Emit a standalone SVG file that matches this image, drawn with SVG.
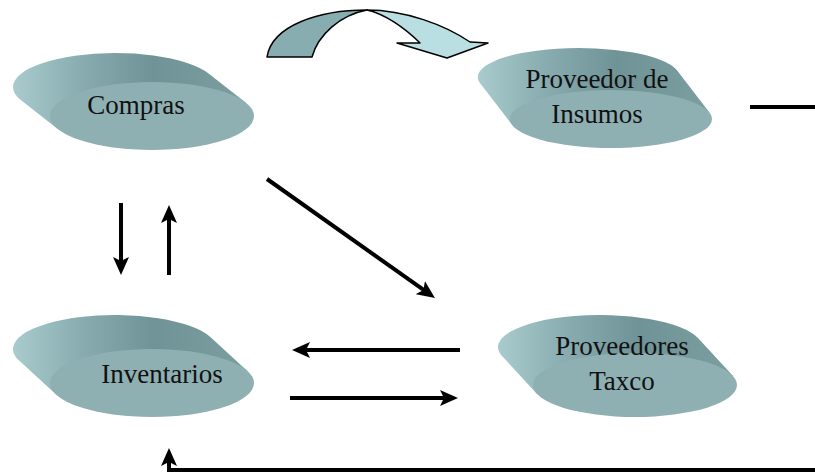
<svg xmlns="http://www.w3.org/2000/svg" width="815" height="475" viewBox="0 0 815 475">
  <defs>
    <linearGradient id="body" x1="0" y1="0" x2="1" y2="0">
      <stop offset="0" stop-color="#a9cbce"/>
      <stop offset="0.3" stop-color="#87abae"/>
      <stop offset="0.6" stop-color="#6f9396"/>
      <stop offset="1" stop-color="#7c9ea1"/>
    </linearGradient>
    <marker id="ah" markerUnits="userSpaceOnUse" markerWidth="18" markerHeight="16" refX="8" refY="8" orient="auto">
      <path d="M0,0 L18,8 L0,16 L4,8 Z" fill="#000"/>
    </marker>
    <style>
      .body { fill: url(#body); }
      .face { fill: #8fb0b3; }
      .lbl { font-family: "Liberation Serif", "Times New Roman", serif; font-size: 27px; fill: #111; text-anchor: middle; }
      .con { stroke: #000; stroke-width: 4; fill: none; }
      .arr { marker-end: url(#ah); }
    </style>
  </defs>
  <rect width="815" height="475" fill="#fff"/>

  <g id="curved-arrow" stroke="#000" stroke-width="1.5" stroke-linejoin="round">
    <path d="M267,57 C272,25 320,10 367,10 C340,15 318,35 312,57 Z" fill="#88adb0"/>
    <path d="M367,10 C405,10 445,25 470,42 L488,43 L447,58 L397,43 L420,43 C405,28 385,14 367,10 Z" fill="#badfe2"/>
  </g>

  <g id="node-compras">
    <path class="body" d="M245.9,102.7 L208.9,73.7 A102,34 0 0 0 21.1,100.3 L58.1,129.3 Z"/>
    <ellipse class="face" cx="152" cy="116" rx="102" ry="34"/>
    <text class="lbl" x="136" y="114">Compras</text>
  </g>

  <g id="node-proveedor-insumos">
    <path class="body" d="M709.6,112.8 L676.6,69.8 A101,29 0 0 0 479.4,82.2 L512.4,125.2 Z"/>
    <ellipse class="face" cx="611" cy="119" rx="101" ry="29"/>
    <text class="lbl" x="597" y="88">Proveedor de</text>
    <text class="lbl" x="597" y="123">Insumos</text>
  </g>

  <g id="node-inventarios">
    <path class="body" d="M247.9,371.4 L210.9,337.4 A102,34 0 0 0 19.1,360.6 L56.1,394.6 Z"/>
    <ellipse class="face" cx="152" cy="383" rx="102" ry="34"/>
    <text class="lbl" x="162" y="383">Inventarios</text>
  </g>

  <g id="node-proveedores-taxco">
    <path class="body" d="M733,376.1 L698,338.1 A102,32 0 0 0 502,355.9 L537,393.9 Z"/>
    <ellipse class="face" cx="635" cy="385" rx="102" ry="32"/>
    <text class="lbl" x="622" y="355">Proveedores</text>
    <text class="lbl" x="622" y="390">Taxco</text>
  </g>

  <g id="connectors">
    <line class="con arr" x1="121" y1="203" x2="121" y2="265"/>
    <line class="con arr" x1="169" y1="275" x2="169" y2="215"/>
    <line class="con arr" x1="267" y1="179" x2="426.8" y2="292.2"/>
    <line class="con arr" x1="460" y1="350" x2="302" y2="350"/>
    <line class="con arr" x1="290" y1="398" x2="448" y2="398"/>
    <polyline class="con arr" points="815,470 169,470 169,458"/>
    <line class="con" x1="750" y1="107" x2="815" y2="107"/>
  </g>
</svg>
